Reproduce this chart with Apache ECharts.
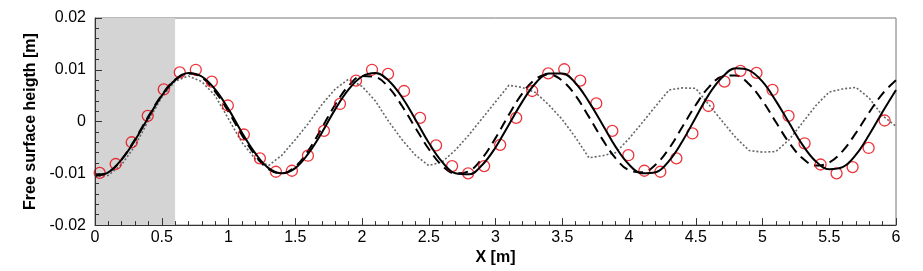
<!DOCTYPE html>
<html>
<head>
<meta charset="utf-8">
<script src="https://cdn.jsdelivr.net/npm/echarts@6/dist/echarts.min.js"></script>
<style>
html,body{margin:0;padding:0;background:#fff;}
#chart{width:923px;height:271px;}
</style>
</head>
<body>
<div id="chart"></div>
<script>
// x positions of the line samples [m]
var xLine = [0,0.1,0.2,0.3,0.4,0.5,0.6,0.7,0.8,0.9,1.0,1.1,1.2,1.3,1.4,1.5,1.6,1.7,1.8,1.9,2.0,
  2.1,2.2,2.3,2.4,2.5,2.6,2.7,2.8,2.9,3.0,3.1,3.2,3.3,3.4,3.5,3.6,3.7,3.8,3.9,4.0,
  4.1,4.2,4.3,4.4,4.5,4.6,4.7,4.8,4.9,5.0,5.1,5.2,5.3,5.4,5.5,5.6,5.7,5.8,5.9,6.0];
// solid line
var solidY = [-0.0104,-0.0098,-0.0073,-0.0036,0.0008,0.0050,0.0080,0.0094,0.0087,0.0062,0.0024,
  -0.0021,-0.0061,-0.0090,-0.0100,-0.0090,-0.0061,-0.0021,0.0024,0.0062,0.0087,
  0.0094,0.0079,0.0047,0.0004,-0.0041,-0.0078,-0.0100,-0.0102,-0.0084,-0.0050,
  -0.0006,0.0038,0.0074,0.0093,0.0093,0.0074,0.0038,-0.0005,-0.0049,-0.0083,
  -0.0100,-0.0098,-0.0076,-0.0038,0.0008,0.0053,0.0086,0.0103,0.0099,0.0077,
  0.0040,-0.0003,-0.0045,-0.0077,-0.0092,-0.0088,-0.0064,-0.0025,0.0019,0.0061];
// dashed line
var dashedY = [-0.0104,-0.0098,-0.0073,-0.0034,0.0010,0.0051,0.0081,0.0093,0.0085,0.0058,0.0019,
  -0.0026,-0.0065,-0.0092,-0.0100,-0.0087,-0.0055,-0.0012,0.0033,0.0069,0.0088,
  0.0086,0.0066,0.0030,-0.0012,-0.0053,-0.0085,-0.0100,-0.0096,-0.0071,-0.0032,
  0.0013,0.0054,0.0082,0.0091,0.0079,0.0050,0.0009,-0.0034,-0.0071,-0.0094,
  -0.0098,-0.0083,-0.0052,-0.0010,0.0032,0.0067,0.0087,0.0089,0.0072,0.0040,
  -0.0001,-0.0041,-0.0071,-0.0085,-0.0079,-0.0057,-0.0022,0.0018,0.0054,0.0080];
// dotted line
var dottedY = [-0.0106,-0.0104,-0.0083,-0.0047,0.0002,0.0047,0.0078,0.0088,0.0077,0.0050,0.0005,
  -0.0040,-0.0072,-0.0085,-0.0065,-0.0035,-0.0003,0.0033,0.0063,0.0082,0.0068,
  0.0040,0.0000,-0.0035,-0.0065,-0.0085,-0.0078,-0.0055,-0.0026,0.0006,0.0038,
  0.0070,0.0066,0.0056,0.0032,0.0004,-0.0031,-0.0070,-0.0066,-0.0060,-0.0033,
  -0.0002,0.0030,0.0061,0.0065,0.0064,0.0032,0.0000,-0.0031,-0.0056,-0.0059,
  -0.0058,-0.0035,-0.0002,0.0031,0.0057,0.0063,0.0066,0.0045,0.0011,-0.0009];
// red circles (measurements)
var circleX = [0.035,0.155,0.275,0.395,0.515,0.635,0.755,0.875,0.995,1.115,1.235,1.355,1.475,
  1.595,1.715,1.835,1.955,2.075,2.195,2.315,2.435,2.555,2.675,2.795,2.915,3.035,3.155,
  3.275,3.395,3.515,3.635,3.755,3.875,3.995,4.115,4.235,4.355,4.475,4.595,4.715,4.835,
  4.955,5.075,5.195,5.315,5.435,5.555,5.675,5.795,5.915];
var circleY = [-0.0099,-0.0082,-0.0040,0.0011,0.0062,0.0095,0.0100,0.0077,0.0031,-0.0025,
  -0.0071,-0.0097,-0.0095,-0.0066,-0.0018,0.0034,0.0079,0.0100,0.0092,0.0059,0.0007,
  -0.0046,-0.0086,-0.0100,-0.0086,-0.0045,0.0007,0.0059,0.0093,0.0101,0.0079,0.0035,
  -0.0018,-0.0065,-0.0095,-0.0097,-0.0071,-0.0023,0.0030,0.0077,0.0098,0.0094,0.0061,
  0.0011,-0.0042,-0.0083,-0.0100,-0.0088,-0.0051,0.0002];
// shaded region
var shadeRange = [0, 0.6];
var xTitle = 'X [m]';
var yTitle = 'Free surface heigth [m]';

function pairs(xs, ys){ return xs.map(function(x,i){ return [x, ys[i]]; }); }

var font = 'Liberation Sans, Arial, Helvetica, sans-serif';
var chart = echarts.init(document.getElementById('chart'), null, {renderer:'canvas'});
chart.setOption({
  animation: false,
  backgroundColor: '#fff',
  grid: {left: 95, right: 27, top: 18, bottom: 35, show: true, borderColor: '#777', borderWidth: 1, backgroundColor: 'transparent'},
  xAxis: {
    type: 'value', min: 0, max: 6, interval: 0.5, z: 5,
    name: xTitle, nameLocation: 'middle', nameGap: 14,
    nameTextStyle: {fontFamily: font, fontSize: 16, fontWeight: 'bold', color: '#000'},
    axisLine: {show: true, onZero: false, lineStyle: {color: '#333', width: 1}},
    axisTick: {show: true, inside: true, length: 7, lineStyle: {color: '#333'}},
    minorTick: {show: true, splitNumber: 5, length: 4, lineStyle: {color: '#333'}},
    axisLabel: {fontFamily: font, fontSize: 16, color: '#000', margin: 4},
    splitLine: {show: false}
  },
  yAxis: {
    type: 'value', min: -0.02, max: 0.02, interval: 0.01, z: 5,
    name: yTitle, nameLocation: 'middle', nameGap: 50, nameRotate: 90,
    nameTextStyle: {fontFamily: font, fontSize: 16, fontWeight: 'bold', color: '#000'},
    axisLine: {show: true, onZero: false, lineStyle: {color: '#333', width: 1}},
    axisTick: {show: true, inside: true, length: 7, lineStyle: {color: '#333'}},
    minorTick: {show: true, splitNumber: 5, length: 4, lineStyle: {color: '#333'}},
    axisLabel: {fontFamily: font, fontSize: 16, color: '#000', margin: 9},
    splitLine: {show: false}
  },
  series: [
    {
      type: 'line', data: [], z: 1, silent: true,
      markArea: {silent: true, itemStyle: {color: '#d4d4d4'},
        data: [[{xAxis: shadeRange[0]}, {xAxis: shadeRange[1]}]]}
    },
    {
      type: 'line', data: pairs(xLine, dottedY), showSymbol: false, smooth: false, z: 2,
      lineStyle: {color: '#666', width: 1.6, type: [2, 2]}
    },
    {
      type: 'line', data: pairs(xLine, dashedY), showSymbol: false, smooth: 0.4, z: 3,
      lineStyle: {color: '#000', width: 2, type: [10, 6]}
    },
    {
      type: 'scatter', data: pairs(circleX, circleY), symbol: 'circle', symbolSize: 11, z: 3,
      itemStyle: {color: 'rgba(0,0,0,0)', borderColor: '#e8000b', borderWidth: 1.3}
    },
    {
      type: 'line', data: pairs(xLine, solidY), showSymbol: false, smooth: 0.4, z: 4,
      lineStyle: {color: '#000', width: 2}
    }
  ]
});
</script>
</body>
</html>
